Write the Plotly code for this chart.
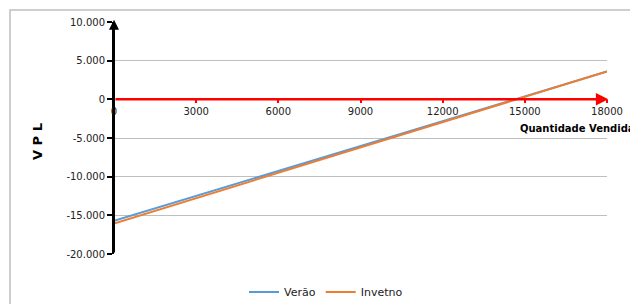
import plotly.graph_objects as go

quantidade = [0, 3000, 6000, 9000, 12000, 15000, 18000]
verao = [-15700, -12480, -9270, -6050, -2830, 380, 3600]
invetno = [-16050, -12770, -9500, -6220, -2950, 320, 3600]

y_ticks = [10000, 5000, 0, -5000, -10000, -15000, -20000]
y_tick_labels = ["10.000", "5.000", "0", "-5.000", "-10.000", "-15.000", "-20.000"]
x_ticks = [0, 3000, 6000, 9000, 12000, 15000, 18000]
x_tick_labels = ["0", "3000", "6000", "9000", "12000", "15000", "18000"]

FONT = "DejaVu Sans"
# the page body adds an 8px offset; compensate
OFF = 8
W, H = 638 - OFF, 304 - OFF
L, R, T, B = 114 - OFF, 31, 22 - OFF, 50
PW, PH = W - L - R, H - T - B


def px(xi):
    return (xi - OFF - L) / PW


def py(yi):
    return 1 - (yi - OFF - T) / PH


fig = go.Figure()
fig.add_trace(go.Scatter(x=quantidade, y=verao, mode="lines", name="Verão",
                         line=dict(color="#5B9BD5", width=2)))
fig.add_trace(go.Scatter(x=quantidade, y=invetno, mode="lines", name="Invetno",
                         line=dict(color="#ED7D31", width=2)))

fig.update_layout(
    width=W, height=H,
    margin=dict(l=L, r=R, t=T, b=B, autoexpand=False),
    paper_bgcolor="white", plot_bgcolor="white",
    font=dict(family=FONT, size=10, color="#222"),
    showlegend=True,
    legend=dict(orientation="h", x=px(326), xanchor="center", y=py(292), yanchor="middle",
                font=dict(size=11, family=FONT), itemwidth=30, bgcolor="rgba(0,0,0,0)"),
    xaxis=dict(range=[0, 18000], tickvals=x_ticks, ticktext=x_tick_labels,
               showgrid=False, zeroline=False, showline=False,
               ticks="outside", ticklen=3, tickcolor="red", tickwidth=2,
               anchor="free", position=2/3, automargin=False,
               tickfont=dict(size=10, family=FONT, color="#222")),
    yaxis=dict(range=[-20000, 10000], tickvals=y_ticks, ticktext=y_tick_labels,
               showgrid=True, gridcolor="#BFBFBF", gridwidth=1, zeroline=False,
               showline=True, linecolor="black", linewidth=2, automargin=False,
               ticks="outside", ticklen=5, tickcolor="black", tickwidth=1.5,
               tickfont=dict(size=10, family=FONT, color="#222")),
)

# outer chart border
fig.add_shape(type="rect", xref="paper", yref="paper",
              x0=px(10), x1=px(700), y0=py(340), y1=py(10),
              line=dict(color="#BFBFBF", width=1.5), layer="below")

# red horizontal arrow at zero
fig.add_annotation(x=18050, y=0, ax=0, ay=0, xref="x", yref="y", axref="x", ayref="y",
                   showarrow=True, arrowhead=2, arrowsize=1, arrowwidth=2.5,
                   arrowcolor="red", text="")
# black vertical arrow
fig.add_annotation(x=0, y=10300, ax=0, ay=-20000, xref="x", yref="y", axref="x", ayref="y",
                   showarrow=True, arrowhead=2, arrowsize=1, arrowwidth=2,
                   arrowcolor="black", text="")

fig.add_annotation(text="<b>V P L</b>", xref="paper", yref="paper",
                   x=px(37), y=py(142), textangle=-90,
                   showarrow=False, font=dict(size=13, family=FONT, color="black"),
                   xanchor="center", yanchor="middle")
fig.add_annotation(text="<b>Quantidade Vendida</b>", xref="paper", yref="paper",
                   x=px(637), y=py(128),
                   showarrow=False, font=dict(size=10, family=FONT, color="black"),
                   xanchor="right", yanchor="middle")

fig.write_html("out.html")
